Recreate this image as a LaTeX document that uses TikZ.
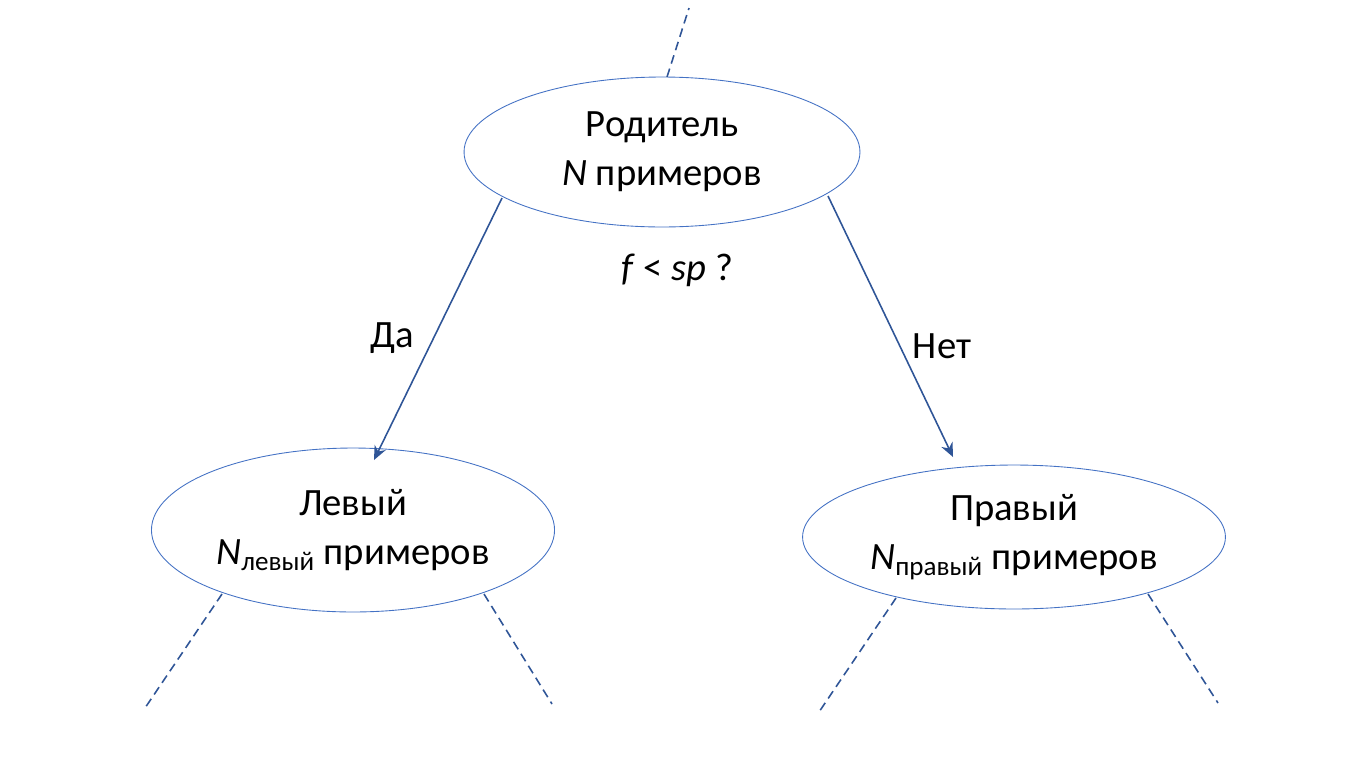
\documentclass[tikz,border=0pt]{standalone}
\usepackage{fontspec}
\setmainfont{Carlito}
\usetikzlibrary{arrows.meta,shapes.geometric}
\definecolor{edgeblue}{HTML}{4472C4}
\definecolor{arrowblue}{HTML}{2F5597}
\begin{document}
\begin{tikzpicture}[x=0.02cm,y=-0.02cm,
    leaf/.style={ellipse, draw=edgeblue, line width=0.5pt, align=center,
        font=\fontsize{22}{28}\selectfont},
    split/.style={draw=arrowblue, line width=0.9pt, -{Stealth[length=8pt,width=7pt]}},
    more/.style={draw=arrowblue, line width=0.9pt, dash pattern=on 5pt off 3pt},
    lbl/.style={font=\fontsize{22}{28}\selectfont}]
    \useasboundingbox (0,0) rectangle (1365,768);

    \node[leaf, minimum width=7.92cm, minimum height=3cm] (parent) at (662,152)
        {Родитель\\\textit{N} примеров};
    \node[leaf, minimum width=7.88cm, minimum height=3.28cm] (left) at (353,530)
        {Левый\\\textit{N}\textsubscript{левый} примеров};
    \node[leaf, minimum width=7.88cm, minimum height=2.88cm] (right) at (1014,537)
        {Правый\\\textit{N}\textsubscript{правый} примеров};

    % points on the outlines
    \coordinate (p-yes) at (502,198);
    \coordinate (p-no) at (828,196);
    \coordinate (l-in) at (374,460);
    \coordinate (r-in) at (953,457);
    \coordinate (p-up) at (667,77);
    \coordinate (l-a) at (222,594);
    \coordinate (l-b) at (484,594);
    \coordinate (r-a) at (896,598);
    \coordinate (r-b) at (1148,594);
    % loose ends
    \coordinate (up) at (689,8);
    \coordinate (ll) at (145,708);
    \coordinate (lr) at (552,704);
    \coordinate (rl) at (819,712);
    \coordinate (rr) at (1218,703);

    \draw[split] (p-yes) -- (l-in);
    \draw[split] (p-no) -- (r-in);
    \node[lbl] (yes) at (392,338) {Да};
    \node[lbl] (no) at (942,346) {Нет};
    \node[lbl] (question) at (677,270) {\textit{f} < \textit{sp} ?};

    \draw[more] (p-up) -- (up);
    \draw[more] (l-a) -- (ll);
    \draw[more] (l-b) -- (lr);
    \draw[more] (r-a) -- (rl);
    \draw[more] (r-b) -- (rr);
\end{tikzpicture}
\end{document}
